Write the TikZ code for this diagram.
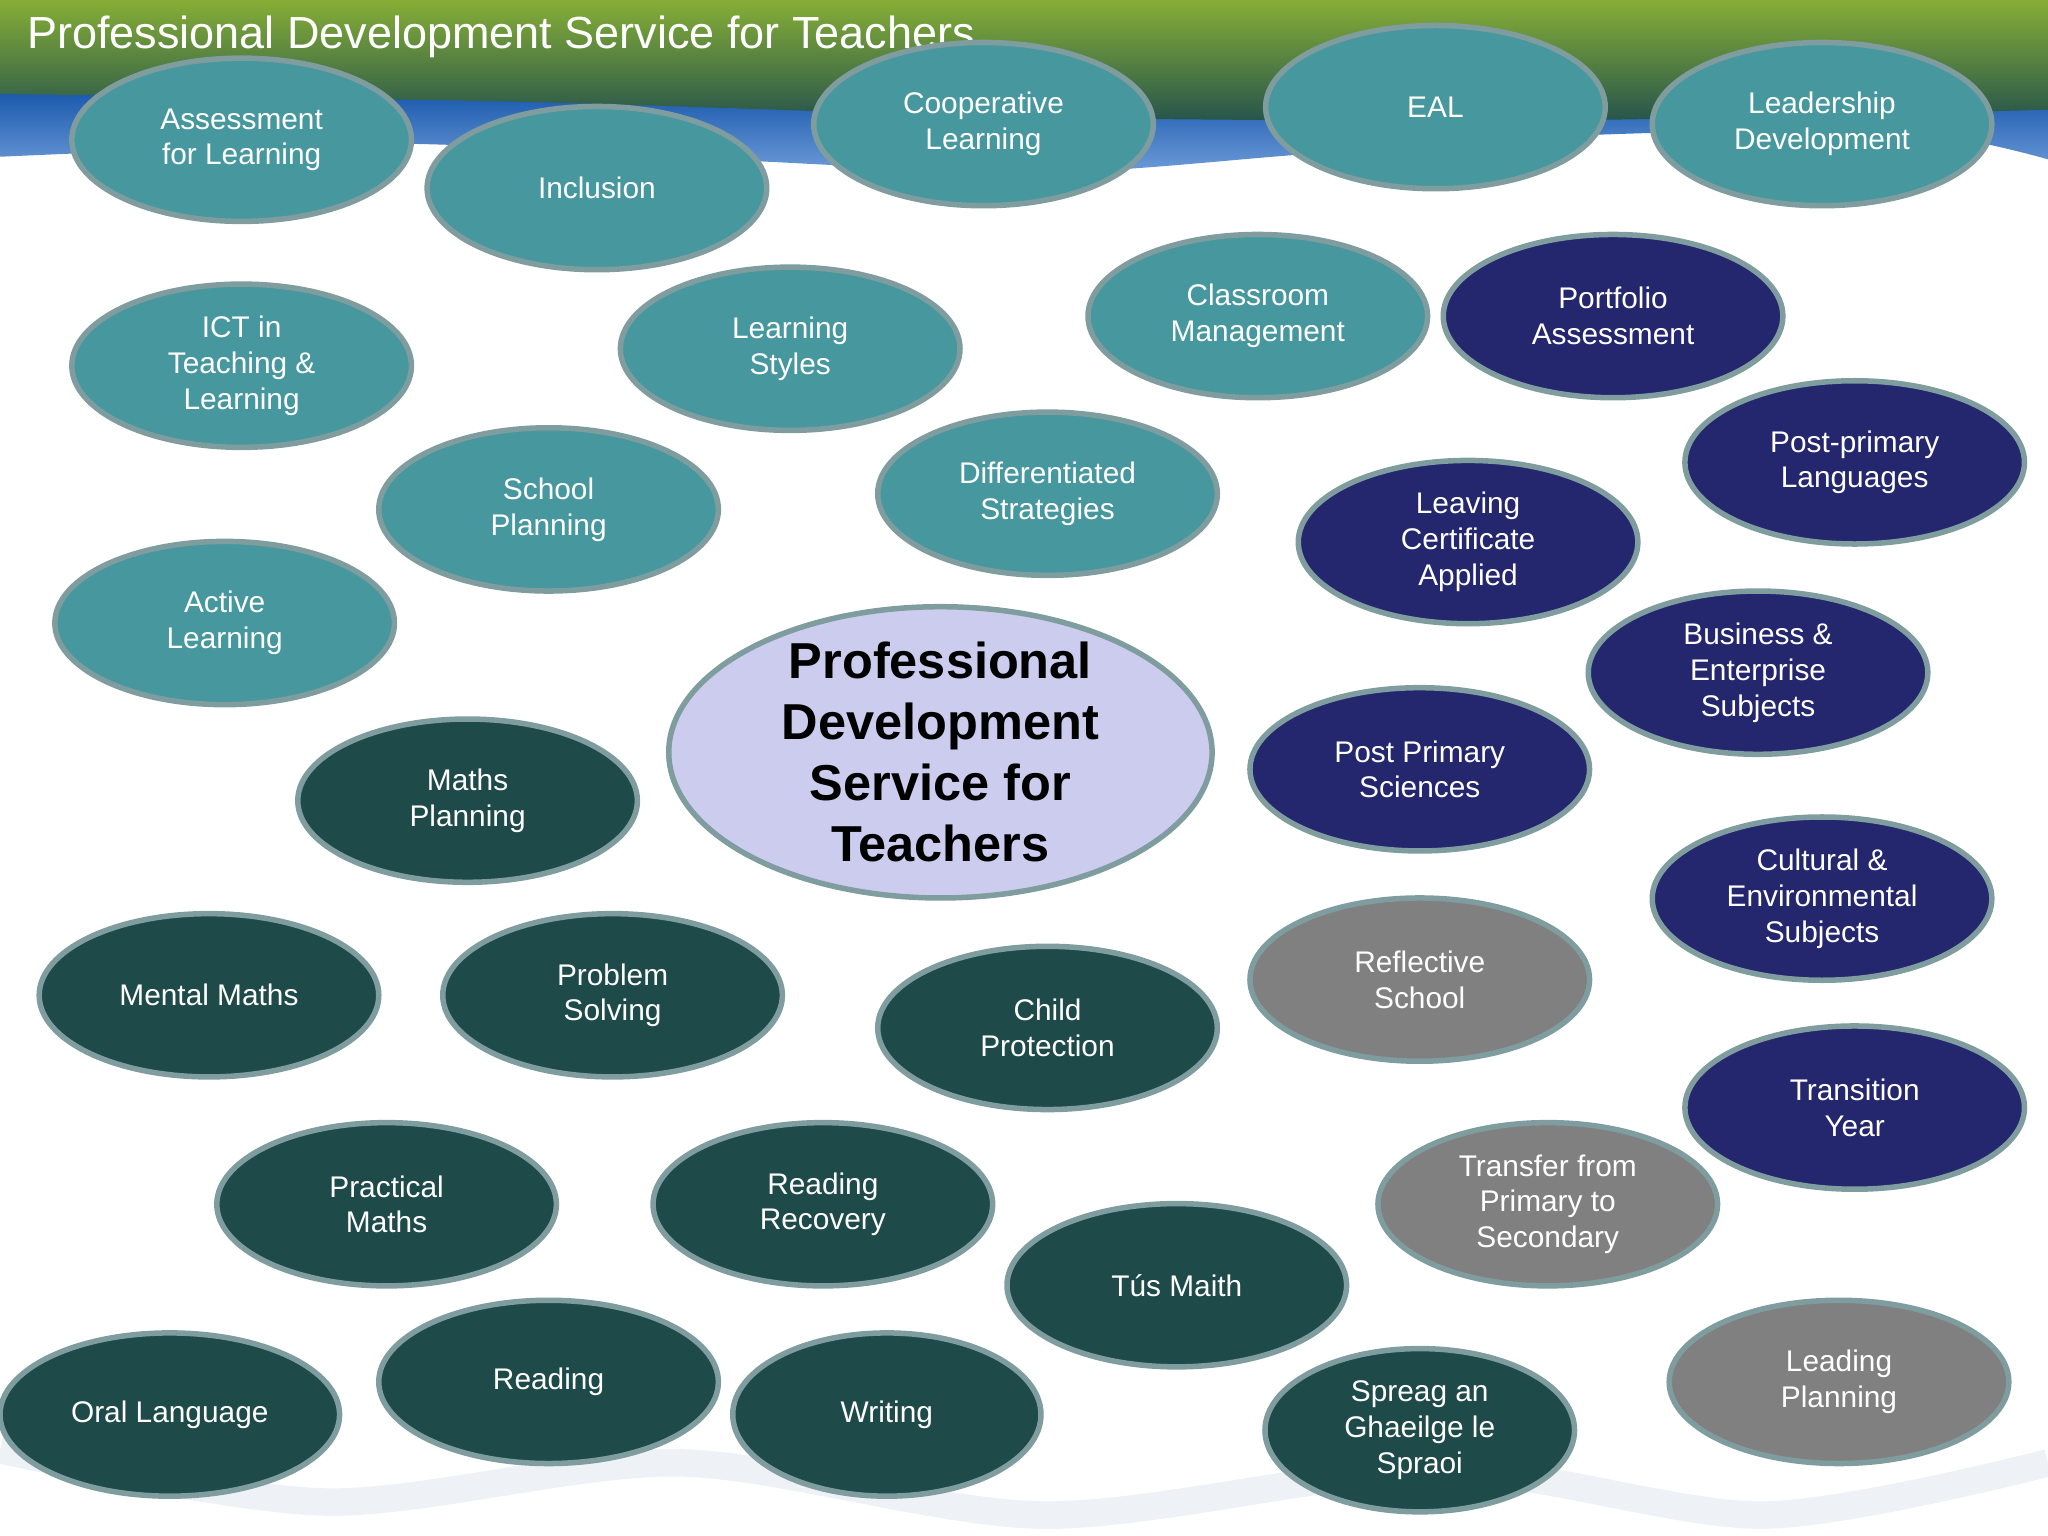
\documentclass[tikz,border=0pt]{standalone}
\usepackage{fontspec}
\setmainfont{Liberation Sans}
\usetikzlibrary{shapes.geometric}

\definecolor{pdsteal}{HTML}{46979E}
\definecolor{pdsnavy}{HTML}{24266E}
\definecolor{pdsdark}{HTML}{1F4A4A}
\definecolor{pdsgrey}{HTML}{808080}
\definecolor{pdsrim}{HTML}{7F9C9E}
\definecolor{pdslilac}{HTML}{CCCCEE}
\definecolor{bandtop}{HTML}{86AE36}
\definecolor{bandlow}{HTML}{26544C}
\definecolor{wavedeep}{HTML}{0C4EA6}
\definecolor{wavelight}{HTML}{6E9CD8}
\definecolor{wavefaint}{HTML}{EEF2F6}

\tikzset{
  topic/.style={ellipse, draw=pdsrim, line width=1.2pt, minimum width=2.6cm,
    minimum height=1.25cm, inner sep=0pt, text=white, align=center,
    font=\fontsize{6.5}{7.8}\selectfont},
  tealtopic/.style={topic, fill=pdsteal},
  navytopic/.style={topic, fill=pdsnavy},
  darktopic/.style={topic, fill=pdsdark},
  greytopic/.style={topic, fill=pdsgrey},
  hub/.style={ellipse, draw=pdsrim, line width=1.2pt, fill=pdslilac,
    minimum width=4.16cm, minimum height=2.23cm, inner sep=-8pt, align=center,
    font=\bfseries\fontsize{11}{13.3}\selectfont}
}

\begin{document}
\begin{tikzpicture}[x=0.1mm, y={(0,-0.1mm)}]
  \useasboundingbox (0,0) rectangle (1568,1176);
  % banner
  \shade[top color=wavedeep, bottom color=wavelight]
    (0,60) -- (1568,60) -- plot[smooth] coordinates {(1568,122) (1450,100) (1200,104)
    (1000,118) (800,132) (550,122) (300,110) (0,120)} -- cycle;
  \shade[top color=bandtop, bottom color=bandlow]
    (0,0) -- (1568,0) -- plot[smooth] coordinates {(1568,84) (1200,92) (800,90)
    (400,78) (0,72)} -- cycle;
  \draw[wavefaint, line width=6pt] plot[smooth] coordinates {(0,1110) (250,1150)
    (520,1120) (800,1160) (1100,1125) (1350,1160) (1568,1120)};
  \node[anchor=base west, inner sep=0pt, text=white,
    font=\fontsize{9.8}{12}\selectfont] (title) at (20,37)
    {Professional Development Service for Teachers};

  % primary
  \node[tealtopic] (afl) at (185,107) {Assessment\\for Learning};
  \node[tealtopic] (incl) at (457,144) {Inclusion};
  \node[tealtopic] (coop) at (753,95) {Cooperative\\Learning};
  \node[tealtopic] (eal) at (1099,82) {EAL};
  \node[tealtopic] (lead) at (1395,95) {Leadership\\Development};
  \node[tealtopic] (ict) at (185,280) {ICT in\\Teaching \&\\Learning};
  \node[tealtopic] (styles) at (605,267) {Learning\\Styles};
  \node[tealtopic] (class) at (963,242) {Classroom\\Management};
  \node[tealtopic] (plan) at (420,390) {School\\Planning};
  \node[tealtopic] (diff) at (802,378) {Differentiated\\Strategies};
  \node[tealtopic] (active) at (172,477) {Active\\Learning};

  % post-primary
  \node[navytopic] (port) at (1235,242) {Portfolio\\Assessment};
  \node[navytopic] (lang) at (1420,354) {Post-primary\\Languages};
  \node[navytopic] (lca) at (1124,415) {Leaving\\Certificate\\Applied};
  \node[navytopic] (bus) at (1346,515) {Business \&\\Enterprise\\Subjects};
  \node[navytopic] (sci) at (1087,589) {Post Primary\\Sciences};
  \node[navytopic] (cult) at (1395,688) {Cultural \&\\Environmental\\Subjects};
  \node[navytopic] (ty) at (1420,848) {Transition\\Year};

  % whole school
  \node[greytopic] (refl) at (1087,750) {Reflective\\School};
  \node[greytopic] (trans) at (1185,922) {Transfer from\\Primary to\\Secondary};
  \node[greytopic] (leadplan) at (1408,1058) {Leading\\Planning};

  % numeracy and literacy
  \node[darktopic] (mplan) at (358,613) {Maths\\Planning};
  \node[darktopic] (mental) at (160,762) {Mental Maths};
  \node[darktopic] (prob) at (469,762) {Problem\\Solving};
  \node[darktopic] (child) at (802,787) {Child\\Protection};
  \node[darktopic] (pract) at (296,922) {Practical\\Maths};
  \node[darktopic] (rrec) at (630,922) {Reading\\Recovery};
  \node[darktopic] (tus) at (901,984) {Tús Maith};
  \node[darktopic] (oral) at (130,1083) {Oral Language};
  \node[darktopic] (read) at (420,1058) {Reading};
  \node[darktopic, minimum width=2.36cm] (writ) at (679,1083) {Writing};
  \node[darktopic, minimum width=2.37cm] (spreag) at (1087,1095) {Spreag an\\Ghaeilge le\\Spraoi};

  \node[hub] (pds) at (720,576) {Professional\\Development\\Service for\\Teachers};
\end{tikzpicture}
\end{document}
